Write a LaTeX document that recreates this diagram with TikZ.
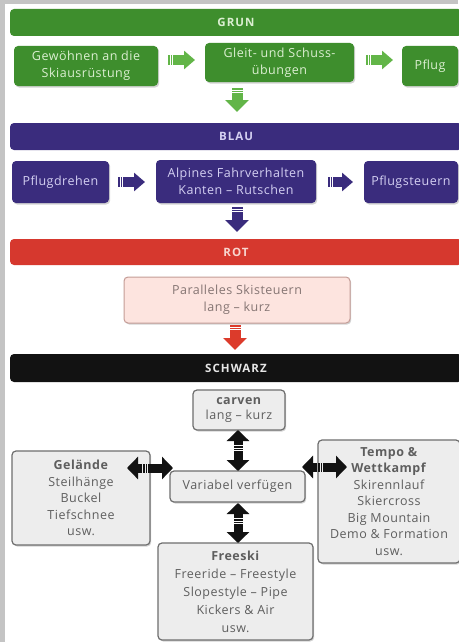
\documentclass[tikz,border=0pt]{standalone}
\usepackage{fontspec}
\setmainfont{Open Sans}
\usetikzlibrary{arrows.meta,shadows,calc}
\definecolor{panelgray}{HTML}{C4C4C4}
\definecolor{grn}{HTML}{3E8E2D}
\definecolor{grntxt}{HTML}{DCEFD2}
\definecolor{grnarr}{HTML}{62B548}
\definecolor{blu}{HTML}{3A2C7D}
\definecolor{blutxt}{HTML}{D4D0F2}
\definecolor{redbar}{HTML}{D6382E}
\definecolor{redtxt}{HTML}{F8D6CF}
\definecolor{redarr}{HTML}{DC3B2B}
\definecolor{pinkfill}{HTML}{FDE4DF}
\definecolor{pinkdraw}{HTML}{C49C96}
\definecolor{pinktxt}{HTML}{857573}
\definecolor{grayfill}{HTML}{EDEDED}
\definecolor{graydraw}{HTML}{6E6E6E}
\definecolor{graytxt}{HTML}{5E5E5E}
\definecolor{blk}{HTML}{121212}
\definecolor{blktxt}{HTML}{E6E6E6}
\tikzset{
  bar/.style={rounded corners=4pt, anchor=north west, inner sep=0pt, outer sep=0pt,
    font=\fontsize{11.5}{12}\selectfont\bfseries\addfontfeatures{LetterSpace=9}},
  box/.style={rounded corners=4pt, anchor=north west, inner sep=0pt, outer sep=0pt, align=center,
    font=\fontsize{12.5}{17}\selectfont\addfontfeatures{LetterSpace=4},
    drop shadow={shadow xshift=1.2pt, shadow yshift=-1.5pt, opacity=0.35}},
  gbox/.style={box, fill=grn, text=grntxt},
  bbox/.style={box, fill=blu, text=blutxt},
  pbox/.style={box, fill=pinkfill, draw=pinkdraw, line width=1pt, text=pinktxt},
  xbox/.style={box, fill=grayfill, draw=graydraw, line width=1.2pt, text=graytxt,
    font=\fontsize{12.5}{16.5}\selectfont\addfontfeatures{LetterSpace=4}},
  rarr/.style={line width=10pt, -{Triangle[length=11pt,width=18pt]},
    dash pattern=on 1.5pt off 1pt on 1.5pt off 1pt on 60pt},
  darr/.style={line width=11pt, -{Triangle[length=12pt,width=23pt]},
    dash pattern=on 1.5pt off 1pt on 1.5pt off 1pt on 60pt},
  dblarr/.style={line width=9pt, blk, {Triangle[length=11pt,width=22pt]}-{Triangle[length=11pt,width=22pt]},
    dash pattern=on 5pt off 1pt on 1.5pt off 1pt on 1.5pt off 1pt on 60pt},
}
\begin{document}
\begin{tikzpicture}[x=1pt,y=-1pt]
\useasboundingbox (0,0) rectangle (458,642);
\fill[panelgray] (0,0) rectangle (458,642);
\fill[white] (5,4) rectangle (470,650);

% bars
\node[bar, fill=grn, text=grntxt, minimum width=452, minimum height=27] (grun) at (10,9) {GRUN};
\node[bar, fill=blu, text=blutxt, minimum width=452, minimum height=27] (blau) at (10,123) {BLAU};
\node[bar, fill=redbar, text=redtxt, minimum width=452, minimum height=26] (rot) at (10,239) {ROT};
\node[bar, fill=blk, text=blktxt, minimum width=452, minimum height=28] (schwarz) at (10,354) {SCHWARZ};

% green row
\node[gbox, minimum width=144, minimum height=40] (g1) at (14,46) {Gewöhnen an die\\Skiausrüstung};
\node[gbox, minimum width=149, minimum height=39] (g2) at (205,43) {Gleit- und Schuss-\\übungen};
\node[gbox, minimum width=56, minimum height=40] (g3) at (402,46) {Pflug};

% blue row
\node[bbox, minimum width=97, minimum height=42] (b1) at (12,161) {Pflugdrehen};
\node[bbox, minimum width=160, minimum height=43] (b2) at (156,160) {Alpines Fahrverhalten\\Kanten – Rutschen};
\node[bbox, minimum width=94, minimum height=42] (b3) at (364,161) {Pflugsteuern};

% red
\node[pbox, minimum width=226, minimum height=46] (p1) at (124,277) {Paralleles Skisteuern\\lang – kurz};

% black section
\node[xbox, minimum width=92, minimum height=40, font=\fontsize{12.5}{15}\selectfont\addfontfeatures{LetterSpace=4}] (carv) at (193,390) {\textbf{carven}\\lang – kurz};
\node[xbox, minimum width=135, minimum height=31] (var) at (170,471) {Variabel verfügen};
\node[xbox, minimum width=138, minimum height=94] (gel) at (12,451) {\textbf{Gelände}\\Steilhänge\\Buckel\\Tiefschnee\\usw.};
\node[xbox, minimum width=142, minimum height=123] (tempo) at (318,440) {\textbf{Tempo \&}\\\textbf{Wettkampf}\\Skirennlauf\\Skiercross\\Big Mountain\\Demo \& Formation\\usw.};
\node[xbox, minimum width=155, minimum height=97, font=\fontsize{12.5}{18}\selectfont\addfontfeatures{LetterSpace=4}] (free) at (158,543) {\textbf{Freeski}\\Freeride – Freestyle\\Slopestyle – Pipe\\Kickers \& Air\\usw.};

% coordinates for the column of down arrows
\coordinate (col) at (237,0);

% green arrows
\draw[rarr, grnarr] ($(g1.east |- 0,60)+(10,0)$) -- ($(g2.west |- 0,60)+(-10,0)$);
\draw[rarr, grnarr] ($(g2.east |- 0,60)+(12,0)$) -- ($(g3.west |- 0,60)+(-9,0)$);
\draw[darr, grnarr] ($(col |- g2.south)+(0,6)$) -- ($(col |- blau.north)+(0,-11)$);

% blue arrows
\draw[rarr, blu] ($(b1.east |- 0,182)+(9,0)$) -- ($(b2.west |- 0,182)+(-11,0)$);
\draw[rarr, blu] ($(b2.east |- 0,182)+(12,0)$) -- ($(b3.west |- 0,182)+(-11,0)$);
\draw[darr, blu] ($(col |- b2.south)+(0,4)$) -- ($(col |- rot.north)+(0,-7)$);

% red arrow
\draw[darr, redarr] ($(col |- p1.south)+(-2,2)$) -- ($(col |- schwarz.north)+(-2,-4)$);

% black double arrows
\draw[dblarr] ($(carv.south -| col)+(1,0)$) -- ($(var.north -| col)+(1,0)$);
\draw[dblarr] ($(var.south -| col)+(1,1)$) -- ($(free.north -| col)+(1,0)$);
\draw[dblarr] ($(gel.east |- 0,468)+(-23,0)$) -- ($(var.west |- 0,468)+(3,0)$);
\draw[dblarr] ($(var.east |- 0,467)+(-3,0)$) -- ($(tempo.west |- 0,467)+(29,0)$);
\end{tikzpicture}
\end{document}
